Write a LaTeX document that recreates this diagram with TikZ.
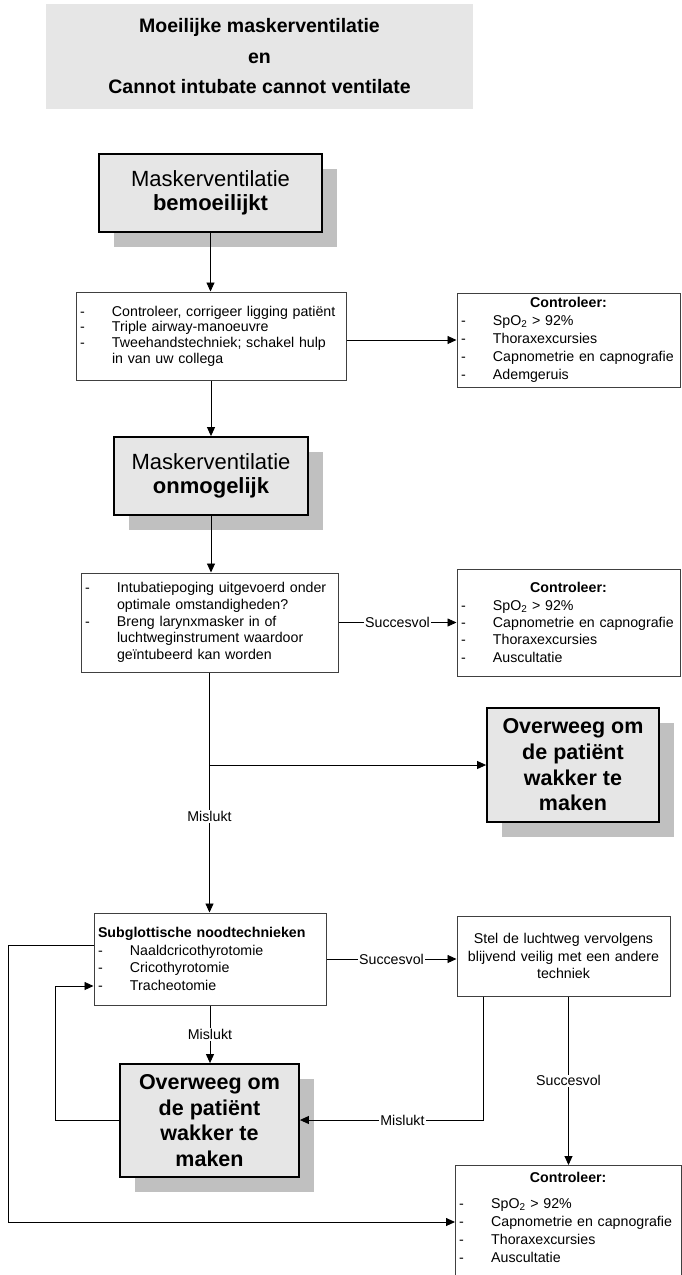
\documentclass[tikz,border=0pt]{standalone}
\usepackage{fontspec}
\setmainfont{Liberation Sans}
\usetikzlibrary{arrows.meta,shadows}

\definecolor{boxgray}{HTML}{E6E6E6}
\definecolor{shadowgray}{HTML}{C0C0C0}
\definecolor{framegray}{HTML}{404040}

% list lines: hyphen in a fixed-width column, then the item text
\newcommand{\dashitem}[1]{\makebox[32pt][l]{-}#1}
\newcommand{\dashcont}[1]{\hspace*{32pt}#1}
\newcommand{\boxhead}[1]{\makebox[\linewidth][c]{\bfseries #1}}

\tikzset{
  bigbox/.style={draw=black, line width=1.8pt, fill=boxgray, inner sep=0pt, align=center,
    drop shadow={shadow xshift=15pt, shadow yshift=-15pt, fill=shadowgray, opacity=1}},
  listbox/.style={draw=framegray, line width=1pt, fill=white, inner xsep=4pt, inner ysep=0pt, align=left},
  small/.style={font=\fontsize{14.2}{#1}\selectfont},
  lbl/.style={fill=white, inner sep=1pt, font=\fontsize{14.2}{16}\selectfont},
  conn/.style={draw=black, line width=0.9pt},
  arr/.style={conn, -{Triangle[length=9pt,width=8pt]}}
}

\begin{document}
\begin{tikzpicture}[x=1pt,y=-1pt]
\useasboundingbox (0,0) rectangle (682,1275);
\clip (0,0) rectangle (682,1275);

% heading
\node[fill=boxgray, minimum width=427pt, minimum height=105pt, inner sep=0pt, align=center,
      font=\fontsize{19.5}{30.5}\selectfont\bfseries] (title) at (259.5,56.5)
  {Moeilijke maskerventilatie\\en\\Cannot intubate cannot ventilate};

% first stage
\node[bigbox, minimum width=223pt, minimum height=78pt, font=\fontsize{22}{24.5}\selectfont]
  (B1) at (210.5,193) {Maskerventilatie\\\textbf{bemoeilijkt}};

\node[listbox, small=15.6, text width=262pt, minimum height=88pt] (B2) at (211,336)
  {\dashitem{Controleer, corrigeer ligging patiënt}\\
   \dashitem{Triple airway-manoeuvre}\\
   \dashitem{Tweehandstechniek; schakel hulp}\\
   \dashcont{in van uw collega}};

\node[listbox, small=18, text width=215pt, minimum height=94pt] (C1) at (568.5,340)
  {\boxhead{Controleer:}\\
   \dashitem{SpO\textsubscript{2} > 92\%}\\
   \dashitem{Thoraxexcursies}\\
   \dashitem{Capnometrie en capnografie}\\
   \dashitem{Ademgeruis}};

% second stage
\node[bigbox, minimum width=194pt, minimum height=78pt, font=\fontsize{22}{24.5}\selectfont]
  (B3) at (211,476) {Maskerventilatie\\\textbf{onmogelijk}};

\node[listbox, small=16.7, text width=249pt, minimum height=99pt] (B4) at (209.5,622.5)
  {\dashitem{Intubatiepoging uitgevoerd onder}\\
   \dashcont{optimale omstandigheden?}\\
   \dashitem{Breng larynxmasker in of}\\
   \dashcont{luchtweginstrument waardoor}\\
   \dashcont{geïntubeerd kan worden}};

\node[listbox, small=17.3, text width=215pt, minimum height=107pt] (C2) at (568.5,622.5)
  {\boxhead{Controleer:}\\
   \dashitem{SpO\textsubscript{2} > 92\%}\\
   \dashitem{Capnometrie en capnografie}\\
   \dashitem{Thoraxexcursies}\\
   \dashitem{Auscultatie}};

\node[bigbox, minimum width=172pt, minimum height=114pt, font=\fontsize{21.5}{25.7}\selectfont\bfseries]
  (O1) at (573,765) {Overweeg om\\de patiënt\\wakker te\\maken};

% emergency stage
\node[listbox, small=17.5, text width=224pt, minimum height=92pt] (S) at (210,959)
  {\textbf{Subglottische noodtechnieken}\\
   \dashitem{Naaldcricothyrotomie}\\
   \dashitem{Cricothyrotomie}\\
   \dashitem{Tracheotomie}};

\node[listbox, small=17.5, text width=205pt, minimum height=80pt, align=center] (T) at (563.5,956)
  {Stel de luchtweg vervolgens\\blijvend veilig met een andere\\techniek};

\node[bigbox, minimum width=179pt, minimum height=113pt, font=\fontsize{21.5}{25.7}\selectfont\bfseries]
  (O2) at (209.5,1120.5) {Overweeg om\\de patiënt\\wakker te\\maken};

\node[listbox, minimum width=226pt, minimum height=130pt, anchor=north west] (C3) at (455,1165) {};
\node[small=18, text width=218pt, inner sep=0pt, align=left, anchor=north west] (C3t)
  at ([xshift=4pt,yshift=-7pt]C3.north west)
  {\boxhead{Controleer:}\\[8pt]
   \dashitem{SpO\textsubscript{2} > 92\%}\\
   \dashitem{Capnometrie en capnografie}\\
   \dashitem{Thoraxexcursies}\\
   \dashitem{Auscultatie}};

% connectors
\draw[arr] (B1.south) -- (B1.south |- B2.north);
\draw[arr] (B2.east |- C1.west) -- (C1.west);
\draw[arr] (B2.south) -- (B2.south |- B3.north);
\draw[arr] (B3.south) -- (B3.south |- B4.north);
\draw[arr] (B4.east |- C2.west) -- node[lbl]{Succesvol} (C2.west);

\coordinate (br) at (B4.south |- O1.west);
\draw[arr] (B4.south) -- node[lbl, pos=0.6]{Mislukt} (B4.south |- S.north);
\draw[arr] (br) -- (O1.west);

\draw[arr] (S.east) -- node[lbl]{Succesvol} (S.east -| T.west);

\coordinate (lp1) at (8,945);
\coordinate (lp2) at (8,1222);
\draw[arr] (S.west |- lp1) -- (lp1) -- (lp2) -- (lp2 -| C3.west);

\coordinate (lq) at (55,986);
\draw[arr] (O2.west) -| (lq) -- (lq -| S.west);

\draw[arr] (S.south) -- node[lbl]{Mislukt} (S.south |- O2.north);

\coordinate (tm) at (483,1120);
\draw[arr] (tm |- T.south) -- (tm) -- node[lbl, pos=0.44]{Mislukt} (tm -| O2.east);

\draw[arr] (C3.north |- T.south) -- node[lbl]{Succesvol} (C3.north);
\end{tikzpicture}
\end{document}
